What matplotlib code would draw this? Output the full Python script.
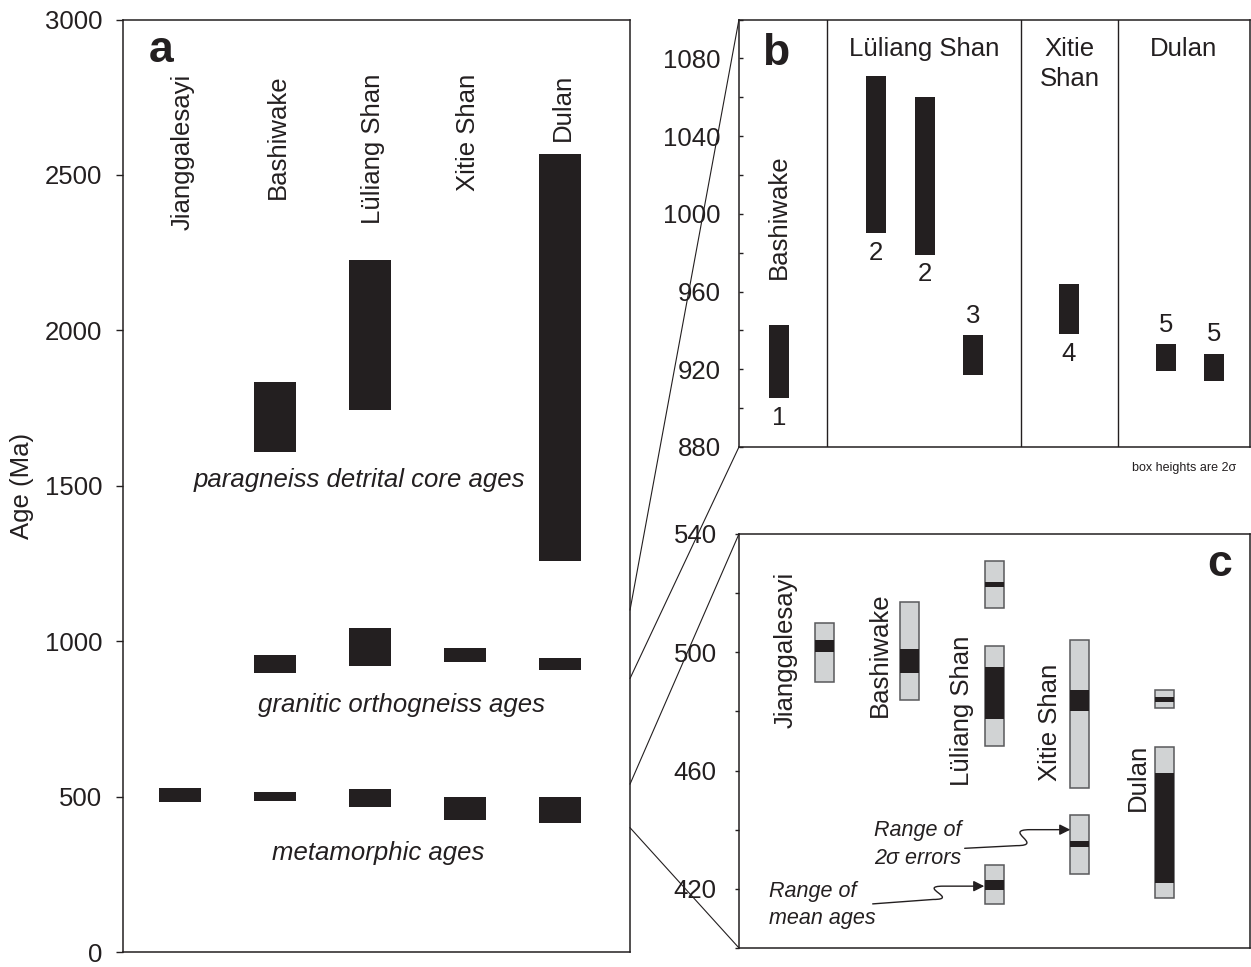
import matplotlib
matplotlib.use('Agg')
import matplotlib.pyplot as plt
from matplotlib.patches import ConnectionPatch, FancyArrowPatch
from matplotlib.path import Path
from matplotlib.ticker import MultipleLocator

plt.rcParams['font.family'] = ['Liberation Sans', 'DejaVu Sans']
plt.rcParams['font.size'] = 18.5

INK = '#231f20'
GREY = '#d1d3d4'

# panel a: age ranges (Ma) for each locality
sites = ['Jianggalesayi', 'Bashiwake', 'Lüliang Shan', 'Xitie Shan', 'Dulan']
para_lo = [None, 1610, 1745, None, 1257]
para_hi = [None, 1835, 2227, None, 2568]
ortho_lo = [None, 897, 919, 932, 906]
ortho_hi = [None, 957, 1044, 978, 947]
meta_lo = [482, 485, 466, 424, 415]
meta_hi = [529, 516, 526, 500, 500]

# panel b: granitic orthogneiss ages (2 sigma boxes) with reference numbers
b_group = ['Bashiwake', 'Lüliang Shan', 'Lüliang Shan', 'Lüliang Shan',
           'Xitie Shan', 'Dulan', 'Dulan']
b_lo = [905, 990, 979, 917, 938, 919, 914]
b_hi = [943, 1071, 1060, 937.5, 964, 933, 928]
b_ref = ['1', '2', '2', '3', '4', '5', '5']

# panel c: metamorphic ages, range of 2 sigma errors and range of mean ages
c_site = ['Jianggalesayi', 'Bashiwake', 'Lüliang Shan', 'Lüliang Shan', 'Lüliang Shan',
          'Xitie Shan', 'Xitie Shan', 'Dulan', 'Dulan']
c_err_lo = [490, 484, 515, 468.4, 414.8, 454, 425, 481, 417]
c_err_hi = [510, 517, 531, 502, 428.2, 504, 445, 487.2, 468]
c_mean_lo = [500, 493, 522.2, 477.5, 419.7, 480, 434.2, 483.3, 422]
c_mean_hi = [504, 501, 523.8, 495, 423, 487.3, 436, 484.8, 459.2]

fig = plt.figure(figsize=(12.51, 9.67), dpi=100)
ax_a = fig.add_axes([0.0983, 0.0155, 0.4053, 0.9643])
ax_b = fig.add_axes([0.5907, 0.5378, 0.4085, 0.4420])
ax_c = fig.add_axes([0.5907, 0.0197, 0.4085, 0.4281])

for ax in (ax_a, ax_b, ax_c):
    for s in ax.spines.values():
        s.set_color(INK)
        s.set_linewidth(1.1)
    ax.set_xticks([])

# ---- panel a
xa = [0.6 + i for i in range(len(sites))]
for lo, hi in [(para_lo, para_hi), (ortho_lo, ortho_hi), (meta_lo, meta_hi)]:
    pts = [(x, l, h) for x, l, h in zip(xa, lo, hi) if l is not None]
    ax_a.bar([p[0] for p in pts], [p[2] - p[1] for p in pts],
             bottom=[p[1] for p in pts], width=0.44, color=INK)
ax_a.set_xlim(0, 5.337)
ax_a.set_ylim(0, 3000)
ax_a.set_yticks(range(0, 3001, 500))
ax_a.tick_params(axis='y', direction='out', length=5, width=1, pad=10, colors=INK)
ax_a.set_ylabel('Age (Ma)', color=INK)
ax_a.yaxis.set_label_coords(-0.176, 0.5)
for x, name in zip(xa, sites):
    ax_a.text(x + 0.03, 2825, name, rotation=90, ha='center', va='top', color=INK)
ax_a.text(0.4, 2863, 'a', fontsize=32, fontweight='bold', ha='center', va='baseline', color=INK)
ax_a.text(2.49, 1519, 'paragneiss detrital core ages', style='italic',
          ha='center', va='center', color=INK)
ax_a.text(2.93, 796, 'granitic orthogneiss ages', style='italic',
          ha='center', va='center', color=INK)
ax_a.text(2.69, 320, 'metamorphic ages', style='italic',
          ha='center', va='center', color=INK)

# ---- panel b
b_x = [0.475, 1.61, 2.18, 2.75, 3.87, 5.01, 5.58]
b_above = [False, False, False, True, False, True, True]
b_sep = [1.03, 3.31, 4.45]
ax_b.bar(b_x, [h - l for l, h in zip(b_lo, b_hi)], bottom=b_lo, width=0.235, color=INK)
for x, l, h, r, up in zip(b_x, b_lo, b_hi, b_ref, b_above):
    ax_b.text(x, h + 10 if up else l - 10, r, ha='center', va='center', color=INK)
for s in b_sep:
    ax_b.axvline(s, color=INK, lw=1.0)
ax_b.set_xlim(0, 6.0)
ax_b.set_ylim(880, 1100)
ax_b.yaxis.set_major_locator(MultipleLocator(40))
ax_b.yaxis.set_minor_locator(MultipleLocator(20))
ax_b.tick_params(axis='y', which='both', direction='in', length=3, width=1, pad=13, colors=INK)
ax_b.text(0.47, 998.4, 'Bashiwake', rotation=90, ha='center', va='center', color=INK)
ax_b.text((b_sep[0] + b_sep[1]) / 2, 1081, 'Lüliang Shan', ha='center', va='baseline', color=INK)
ax_b.text((b_sep[1] + b_sep[2]) / 2, 1081, 'Xitie', ha='center', va='baseline', color=INK)
ax_b.text((b_sep[1] + b_sep[2]) / 2, 1065.8, 'Shan', ha='center', va='baseline', color=INK)
ax_b.text((b_sep[2] + 6.0) / 2, 1081, 'Dulan', ha='center', va='baseline', color=INK)
ax_b.text(0.43, 1076.7, 'b', fontsize=32, fontweight='bold', ha='center', va='baseline', color=INK)
fig.text(0.988, 0.516, 'box heights are 2σ', fontsize=9, ha='right', va='center', color=INK)

# ---- panel c
c_x = [sites.index(s) + 1 for s in c_site]
ax_c.bar(c_x, [h - l for l, h in zip(c_err_lo, c_err_hi)], bottom=c_err_lo, width=0.22,
         color=GREY, edgecolor='#58595b', linewidth=1.1)
ax_c.bar(c_x, [h - l for l, h in zip(c_mean_lo, c_mean_hi)], bottom=c_mean_lo, width=0.22,
         color=INK, linewidth=0)
ax_c.set_xlim(0, 6.0)
ax_c.set_ylim(400, 540)
ax_c.yaxis.set_major_locator(MultipleLocator(40))
ax_c.yaxis.set_minor_locator(MultipleLocator(20))
ax_c.set_yticks([420, 460, 500, 540])
ax_c.tick_params(axis='y', which='both', direction='out', length=3, width=1, pad=13, colors=INK)
c_label_xy = [(0.55, 500.8), (1.65, 499.1), (2.62, 480.3), (3.65, 476.3), (4.68, 457.7)]
for (x, y), name in zip(c_label_xy, sites):
    ax_c.text(x, y, name, rotation=90, ha='center', va='center', color=INK)
ax_c.text(5.64, 525.8, 'c', fontsize=32, fontweight='bold', ha='center', va='baseline', color=INK)
ax_c.text(1.585, 435.0, 'Range of\n2σ errors', style='italic', fontsize=15.5,
          ha='left', va='center', linespacing=1.4, color=INK)
ax_c.text(0.35, 414.6, 'Range of\nmean ages', style='italic', fontsize=15.5,
          ha='left', va='center', linespacing=1.4, color=INK)

codes = [Path.MOVETO, Path.LINETO, Path.CURVE4, Path.CURVE4, Path.CURVE4, Path.LINETO]
arrow_paths = [
    [(2.65, 433.7), (3.26, 434.6), (3.60, 434.6), (3.08, 440.0), (3.42, 440.0), (3.89, 440.0)],
    [(1.57, 414.9), (2.28, 416.4), (2.60, 416.4), (2.08, 420.9), (2.40, 420.9), (2.88, 420.9)],
]
for verts in arrow_paths:
    arr = FancyArrowPatch(path=Path(verts, codes), arrowstyle='-|>', mutation_scale=16,
                          lw=1.0, color=INK)
    ax_c.add_patch(arr)

# ---- zoom lines from panel a to panels b and c
links = [(1100, ax_b, 1), (880, ax_b, 0), (540, ax_c, 1), (400, ax_c, 0)]
for age, target, yfrac in links:
    con = ConnectionPatch(xyA=(1, age), coordsA=ax_a.get_yaxis_transform(),
                          xyB=(0, yfrac), coordsB=target.transAxes,
                          color=INK, lw=0.8)
    fig.add_artist(con)

fig.savefig('out.png', dpi=100)
